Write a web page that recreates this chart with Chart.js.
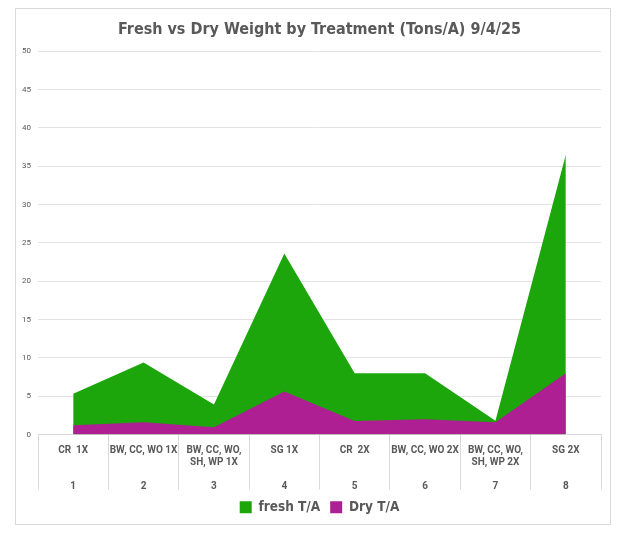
<!DOCTYPE html>
<html>
<head>
<meta charset="utf-8">
<script src="https://cdn.jsdelivr.net/npm/chart.js@4"></script>
<style>
  body { margin: 0; background: #fff; }
  #box {
    position: absolute; left: 15px; top: 8px;
    width: 596px; height: 517px;
    border: 1px solid #d9d9d9; box-sizing: border-box;
  }
</style>
</head>
<body>
<div id="box"><canvas id="weightChart"></canvas></div>
<script>
// treatment names (top row) and plot numbers (bottom row)
const treatments = [
    ['CR  1X', ''],
    ['BW, CC, WO 1X', ''],
    ['BW, CC, WO,', 'SH, WP 1X'],
    ['SG 1X', ''],
    ['CR  2X', ''],
    ['BW, CC, WO 2X', ''],
    ['BW, CC, WO,', 'SH, WP 2X'],
    ['SG 2X', '']
];
const plotNumbers = ['1', '2', '3', '4', '5', '6', '7', '8'];

const freshTA = [5.3, 9.4, 3.9, 23.6, 8.0, 8.0, 1.8, 36.5];
const dryTA = [1.2, 1.6, 0.95, 5.6, 1.75, 2.0, 1.6, 8.0];

const yMax = 50;
const yStep = 5;

const labels = treatments.map((t, i) => [t[0], t[1], '', plotNumbers[i]]);

function renderWeightChart() {
    const ctx = document.getElementById('weightChart').getContext('2d');
    const grey = '#595959';

    new Chart(ctx, {
        type: 'line',
        data: {
            labels: labels,
            datasets: [{
                label: 'fresh T/A',
                data: freshTA,
                backgroundColor: '#1ca60c',
                borderColor: '#1ca60c',
                borderWidth: 0,
                pointRadius: 0,
                fill: 'origin',
                order: 1
            }, {
                label: 'Dry T/A',
                data: dryTA,
                backgroundColor: '#ae1f93',
                borderColor: '#ae1f93',
                borderWidth: 0,
                pointRadius: 0,
                fill: 'origin',
                order: 0
            }]
        },
        options: {
            responsive: true,
            maintainAspectRatio: false,
            animation: false,
            layout: { padding: { top: 8, left: 22, right: 9, bottom: 0 } },
            plugins: {
                title: {
                    display: true,
                    text: 'Fresh vs Dry Weight by Treatment (Tons/A) 9/4/25',
                    color: grey,
                    font: { family: 'DejaVu Sans Condensed', size: 16, weight: 'bold' },
                    padding: { top: 3, bottom: 12 }
                },
                legend: {
                    position: 'bottom',
                    reverse: true,
                    labels: {
                        color: grey,
                        boxWidth: 12,
                        boxHeight: 12,
                        padding: 10,
                        font: { family: 'DejaVu Sans Condensed', size: 13.5, weight: 'bold' }
                    }
                },
                tooltip: { enabled: false }
            },
            scales: {
                x: {
                    offset: true,
                    grid: {
                        offset: true,
                        drawOnChartArea: false,
                        tickLength: 55,
                        color: '#d9d9d9'
                    },
                    border: { color: '#d9d9d9' },
                    ticks: {
                        color: grey,
                        padding: -45.5,
                        maxRotation: 0,
                        autoSkip: false,
                        font: { family: 'Roboto', size: 10, weight: 'bold', lineHeight: 1.2 }
                    },
                    afterFit: (scale) => { scale.height = 56; }
                },
                y: {
                    min: 0,
                    max: yMax,
                    border: { display: false },
                    grid: { color: '#e3e3e3', drawTicks: false },
                    ticks: {
                        stepSize: yStep,
                        color: grey,
                        // mirrored labels pushed back out to the left of the plot
                        mirror: true,
                        crossAlign: 'far',
                        padding: -16,
                        font: { family: 'Roboto', size: 8 }
                    },
                    afterFit: (scale) => { scale.width = 0; }
                }
            }
        }
    });
}

renderWeightChart();
</script>
</body>
</html>
